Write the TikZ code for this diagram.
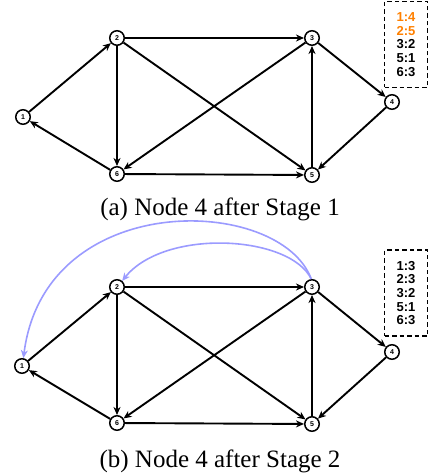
\documentclass[tikz,border=0pt]{standalone}
\usepackage{fontspec}
\setmainfont{Liberation Serif}
\newfontfamily\sansf{Liberation Sans}
\usetikzlibrary{arrows.meta}
\definecolor{orng}{HTML}{FF8000}
\definecolor{arcblue}{HTML}{9B9BFF}
\begin{document}
\begin{tikzpicture}[x=1pt,y=-1pt,
  vtx/.style={circle,draw,line width=1.5pt,fill=white,minimum size=14.5pt,inner sep=0pt,font=\sansf\bfseries\fontsize{7}{8}\selectfont},
  edge/.style={line width=1.9pt,-{Stealth[length=8pt,width=7pt,inset=2.5pt]}},
  bluearc/.style={line width=1.6pt,arcblue,-{Stealth[length=8pt,width=7pt,inset=2.5pt]}},
  tbl/.style={draw,dashed,dash pattern=on 4.5pt off 3pt,line width=1.6pt,minimum width=43pt,minimum height=86pt,inner sep=0pt,align=center,font=\sansf\bfseries\fontsize{13}{15}\selectfont},
  captxt/.style={font=\fontsize{25}{28}\selectfont}]
\useasboundingbox (0,0) rectangle (429,476);
% panel (a)
\node[vtx] (a1) at (23,117) {1};
\node[vtx] (a2) at (117,38) {2};
\node[vtx] (a3) at (312,38) {3};
\node[vtx] (a4) at (392,102) {4};
\node[vtx] (a5) at (312,175) {5};
\node[vtx] (a6) at (117,174) {6};
\draw[edge] (a1) -- (a2);
\draw[edge] (a2) -- (a3);
\draw[edge] (a2) -- (a6);
\draw[edge] (a2) -- (a5);
\draw[edge] (a3) -- (a4);
\draw[edge] (a3) -- (a6);
\draw[edge] (a5) -- (a3);
\draw[edge] (a4) -- (a5);
\draw[edge] (a6) -- (a5);
\draw[edge] (a6) -- (a1);
\node[tbl] (ta) at (406,44.5) {{\color{orng}1:4}\\[-1.4pt]{\color{orng}2:5}\\[-1.4pt]3:2\\[-1.4pt]5:1\\[-1.4pt]6:3};
\node[captxt] (ca) at (220,209) {(a) Node 4 after Stage 1};
% panel (b)
\node[vtx] (b1) at (22,366) {1};
\node[vtx] (b2) at (117,287) {2};
\node[vtx] (b3) at (312,287) {3};
\node[vtx] (b4) at (392,352) {4};
\node[vtx] (b5) at (312,424) {5};
\node[vtx] (b6) at (117,423) {6};
\draw[edge] (b1) -- (b2);
\draw[edge] (b2) -- (b3);
\draw[edge] (b2) -- (b6);
\draw[edge] (b2) -- (b5);
\draw[edge] (b3) -- (b4);
\draw[edge] (b3) -- (b6);
\draw[edge] (b5) -- (b3);
\draw[edge] (b4) -- (b5);
\draw[edge] (b6) -- (b5);
\draw[edge] (b6) -- (b1);
\draw[bluearc] (b3.95) .. controls (280,195) and (45,188) .. (b1.80);
\draw[bluearc] (b3.95) .. controls (290,235) and (165,228) .. (b2.50);
\node[tbl] (tb) at (406,293) {1:3\\[-1.4pt]2:3\\[-1.4pt]3:2\\[-1.4pt]5:1\\[-1.4pt]6:3};
\node[captxt] (cb) at (220,461) {(b) Node 4 after Stage 2};
\end{tikzpicture}
\end{document}
